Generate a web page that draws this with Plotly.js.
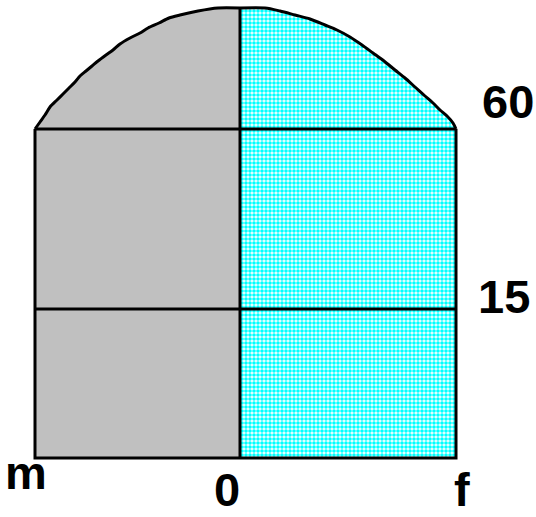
<!DOCTYPE html>
<html>
<head>
<meta charset="utf-8">
<script src="https://cdn.plot.ly/plotly-3.0.1.min.js"></script>
<style>
  html, body { margin: 0; padding: 0; background: #fff; }
  #chart { width: 536px; height: 517px; }
</style>
</head>
<body>
<div id="chart"></div>
<script>
// bar extents (male to the left, female to the right) and band tops
const maleWidth = 205;
const femaleWidth = 216;
const bandTops = [149, 329];      // 15 and 60 lines
const bandLabels = ['15', '60'];

// curved top of the male half, from the 60 line up to the peak
const maleArcX = [-205, -200, -195, -190, -183, -177, -171, -165, -160, -154, -148, -142, -134, -127, -120, -110, -100, -92, -81, -71, -60, -42, -22, 0];
const maleArcY = [329, 336, 343, 351, 358, 364, 370, 376, 382, 387, 392, 397, 403, 408, 414, 420, 425, 430, 435, 440, 443, 447, 450, 450];

// curved top of the female half, from the peak down to the 60 line
const femaleArcX = [0, 25, 40, 55, 70, 85, 97, 110, 122, 133, 144, 155, 165, 175, 185, 193, 200, 207, 213, 216];
const femaleArcY = [450, 450, 447, 443, 439, 433, 428, 421, 413, 405, 397, 388, 380, 371, 362, 355, 348, 342, 335, 329];

const sexLabels = ['m', '0', 'f'];

const black = '#000000';

// closed outlines for the fills
const maleX = [0, -maleWidth].concat(maleArcX, [0]);
const maleY = [0, 0].concat(maleArcY, [0]);
const femaleX = [0].concat(femaleArcX, [femaleWidth, 0]);
const femaleY = [0].concat(femaleArcY, [0, 0]);

const lineStyle = { color: black, width: 3 };
const arcStyle = { color: black, width: 3, shape: 'spline', smoothing: 0.8 };

const traces = [
    {
        x: maleX, y: maleY,
        type: 'scatter', mode: 'lines',
        fill: 'toself', fillcolor: '#c0c0c0',
        line: { width: 0 },
        hoverinfo: 'skip'
    },
    {
        x: femaleX, y: femaleY,
        type: 'scatter', mode: 'lines',
        fill: 'toself', fillcolor: 'rgba(0,0,0,0)',
        fillpattern: { shape: '.', bgcolor: '#ffffff', fgcolor: '#00ffff', size: 4, solidity: 0.65 },
        line: { width: 0 },
        hoverinfo: 'skip'
    },
    // arcs
    { x: maleArcX, y: maleArcY, type: 'scatter', mode: 'lines', line: arcStyle, hoverinfo: 'skip' },
    { x: femaleArcX, y: femaleArcY, type: 'scatter', mode: 'lines', line: arcStyle, hoverinfo: 'skip' },
    // frame: left side, bottom, right side
    {
        x: [-maleWidth, -maleWidth, femaleWidth, femaleWidth],
        y: [bandTops[1], 0, 0, bandTops[1]],
        type: 'scatter', mode: 'lines', line: lineStyle, hoverinfo: 'skip'
    },
    // divider between the sexes
    { x: [0, 0], y: [0, 450], type: 'scatter', mode: 'lines', line: lineStyle, hoverinfo: 'skip' }
];

bandTops.forEach(v => {
    traces.push({
        x: [-maleWidth, femaleWidth], y: [v, v],
        type: 'scatter', mode: 'lines',
        line: lineStyle,
        hoverinfo: 'skip'
    });
});

const labelFont = { family: 'Liberation Sans, Arial, sans-serif', size: 47, color: black, weight: 'bold' };

// label placement in paper units
const bandLabelPos = [[1.105, 0.360], [1.115, 0.789]];
const sexLabelPos = [[-0.014, -0.026], [0.457, -0.062], [1.007, -0.062]];

const annotations = [];
bandLabels.forEach((t, i) => {
    annotations.push({
        text: t, xref: 'paper', yref: 'paper',
        x: bandLabelPos[i][0], y: bandLabelPos[i][1],
        xanchor: 'center', yanchor: 'middle',
        showarrow: false, font: labelFont
    });
});
sexLabels.forEach((t, i) => {
    annotations.push({
        text: t, xref: 'paper', yref: 'paper',
        x: sexLabelPos[i][0], y: sexLabelPos[i][1],
        xanchor: 'center', yanchor: 'middle',
        showarrow: false, font: labelFont
    });
});

const layout = {
    width: 536,
    height: 517,
    showlegend: false,
    margin: { l: 32, r: 77, t: 5, b: 56 },
    xaxis: { range: [-208, 219], visible: false, fixedrange: true },
    yaxis: { range: [-3, 453], visible: false, fixedrange: true },
    plot_bgcolor: '#ffffff',
    paper_bgcolor: '#ffffff',
    annotations: annotations
};

Plotly.newPlot('chart', traces, layout, { displayModeBar: false, staticPlot: true });
</script>
</body>
</html>
